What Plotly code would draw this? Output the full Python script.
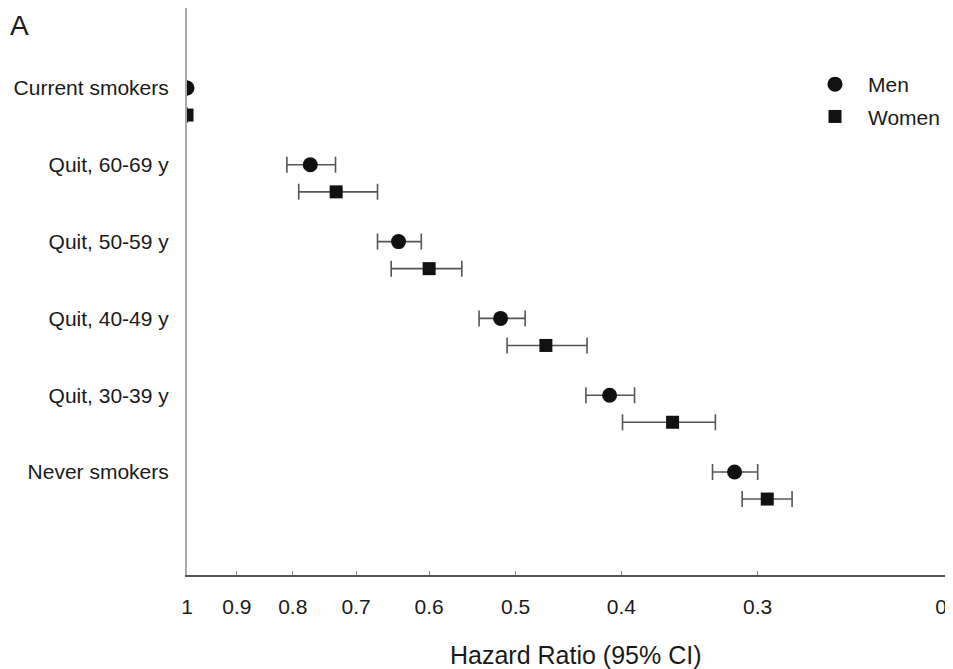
import math
import plotly.graph_objects as go

categories = ["Current smokers", "Quit, 60-69 y", "Quit, 50-59 y",
              "Quit, 40-49 y", "Quit, 30-39 y", "Never smokers"]

men_hr = [1.00, 0.771, 0.640, 0.516, 0.410, 0.315]
men_lo = [1.00, 0.731, 0.610, 0.490, 0.389, 0.300]
men_hi = [1.00, 0.810, 0.669, 0.540, 0.431, 0.330]

women_hr = [1.00, 0.730, 0.600, 0.469, 0.359, 0.294]
women_lo = [1.00, 0.669, 0.560, 0.430, 0.328, 0.279]
women_hi = [1.00, 0.790, 0.650, 0.509, 0.399, 0.310]

x_ticks = [1, 0.9, 0.8, 0.7, 0.6, 0.5, 0.4, 0.3, 0.2]
x_tick_text = ["1", "0.9", "0.8", "0.7", "0.6", "0.5", "0.4", "0.3", "0.2"]

# page body has an 8px default margin; lay out in window pixels minus offset
O = 8
W, H = 953 - O, 669 - O
ML = 187 - O
MT = 0
PLOT_RIGHT = 953 - O
PLOT_BOTTOM = 575 - O
MR = W - PLOT_RIGHT
MB = H - PLOT_BOTTOM
PW, PH = W - ML - MR, H - MT - MB
FONT = "Liberation Sans, Arial, sans-serif"
TXT = "#1a1a1a"
X_END = math.exp(-(PW / 474.0))

y_men = [float(i) for i in range(len(categories))]
y_women = [i + 0.352 for i in y_men]


def px_x(p):
    return (p - O - ML) / PW


def px_y(p):
    return 1 - (p - O - MT) / PH


fig = go.Figure()
fig.add_trace(go.Scatter(
    x=men_hr, y=y_men, mode="markers", name="Men", legendgroup="m",
    marker=dict(symbol="circle", size=15, color="#111111"),
    error_x=dict(type="data", symmetric=False,
                 array=[h - m for h, m in zip(men_hi, men_hr)],
                 arrayminus=[m - l for m, l in zip(men_hr, men_lo)],
                 color="#555555", thickness=1.6, width=8),
))
fig.add_trace(go.Scatter(
    x=women_hr, y=y_women, mode="markers", name="Women", legendgroup="w",
    marker=dict(symbol="square", size=13, color="#111111"),
    error_x=dict(type="data", symmetric=False,
                 array=[h - m for h, m in zip(women_hi, women_hr)],
                 arrayminus=[m - l for m, l in zip(women_hr, women_lo)],
                 color="#555555", thickness=1.6, width=8),
))

fig.update_layout(
    width=W, height=H,
    margin=dict(l=ML, r=MR, t=MT, b=MB, autoexpand=False),
    paper_bgcolor="white", plot_bgcolor="white",
    font=dict(family=FONT, size=21, color=TXT),
    showlegend=True,
    legend=dict(x=px_x(945), y=px_y(64), xanchor="right", yanchor="top",
                bgcolor="rgba(0,0,0,0)", font=dict(size=21, color=TXT),
                itemwidth=56, tracegroupgap=2, itemsizing="trace"),
    xaxis=dict(type="log", range=[0, math.log10(X_END)], automargin=False,
               tickvals=x_ticks, ticktext=x_tick_text,
               showgrid=False, zeroline=False,
               showline=True, linecolor="#555555", linewidth=2,
               ticks="inside", ticklen=4, tickcolor="#888888",
               ticklabeloverflow="allow",
               tickfont=dict(size=21, color=TXT), ticklabelstandoff=12),
    yaxis=dict(range=[6.341, -1.042], automargin=False,
               tickvals=y_men, ticktext=categories,
               showgrid=False, zeroline=False,
               showline=True, linecolor="#aaaaaa", linewidth=2,
               ticks="", tickfont=dict(size=21, color=TXT),
               ticklabelstandoff=12),
)

fig.add_annotation(text="Hazard Ratio (95% CI)", xref="paper", yref="paper",
                   x=px_x(575), y=px_y(655),
                   xanchor="center", yanchor="middle", showarrow=False,
                   font=dict(size=25, color=TXT))
fig.add_annotation(text="A", xref="paper", yref="paper",
                   x=px_x(8), y=px_y(8),
                   xanchor="left", yanchor="top", showarrow=False,
                   font=dict(size=28, color=TXT))

fig.write_html("out.html")
